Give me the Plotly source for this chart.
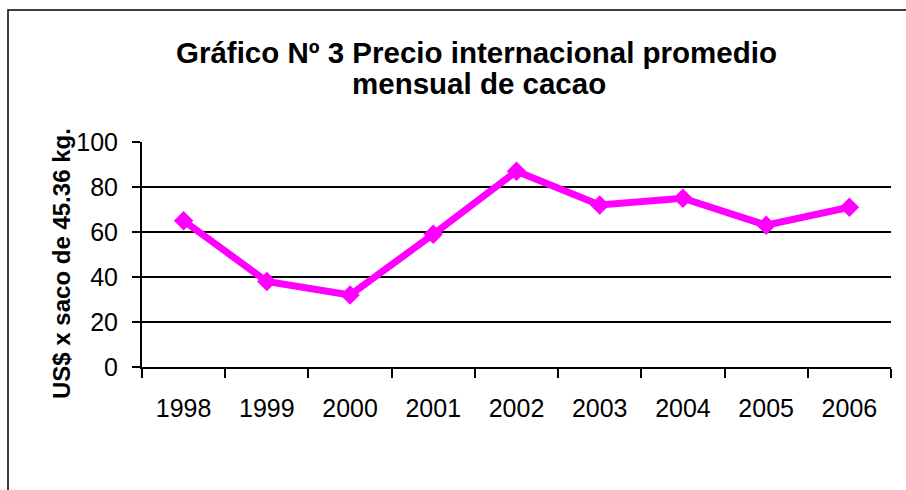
import plotly.graph_objects as go

years = ["1998", "1999", "2000", "2001", "2002", "2003", "2004", "2005", "2006"]
prices = [65, 38, 32, 59, 87, 72, 75, 63, 71]
y_ticks = [0, 20, 40, 60, 80, 100]
title_lines = ["Gráfico Nº 3 Precio internacional promedio", "mensual de cacao"]
y_title = "US$ x saco de 45.36 kg."

fig = go.Figure()
fig.add_trace(go.Scatter(
    x=years, y=prices, mode="lines+markers",
    line=dict(color="#FF00FF", width=7),
    marker=dict(symbol="diamond", size=15, color="#FF00FF"),
    showlegend=False,
))

W, H = 906, 490
L, R, T, B = 142, 15, 142, 123
PW, PH = W - L - R, H - T - B


def px_x(p):
    return (p - L) / PW


def px_y(p):
    return (H - B - p) / PH


fig.update_layout(
    width=W, height=H,
    margin=dict(l=L, r=R, t=T, b=B),
    paper_bgcolor="white", plot_bgcolor="white",
    font=dict(family="Liberation Sans, Arial, sans-serif", color="black"),
    xaxis=dict(
        type="category", tickson="boundaries", ticks="outside", ticklen=9,
        tickwidth=2, tickcolor="black", showline=True, linecolor="black",
        linewidth=2, showgrid=False, tickfont=dict(size=25),
        ticklabelstandoff=18, range=[-0.5, 8.5],
    ),
    yaxis=dict(
        range=[0, 100], tickvals=y_ticks, ticks="outside", ticklen=8,
        tickwidth=2, tickcolor="black", showline=True, linecolor="black",
        linewidth=2, showgrid=True, gridcolor="black", gridwidth=1.5,
        tickfont=dict(size=25), ticklabelstandoff=9, zeroline=False,
    ),
    annotations=[
        dict(text="<b>" + title_lines[0] + "</b>", xref="paper", yref="paper",
             x=px_x(476), y=px_y(52), xanchor="center", yanchor="middle",
             showarrow=False, font=dict(size=29.5)),
        dict(text="<b>" + title_lines[1] + "</b>", xref="paper", yref="paper",
             x=px_x(479), y=px_y(84), xanchor="center", yanchor="middle",
             showarrow=False, font=dict(size=29.5)),
        dict(text="<b>" + y_title + "</b>", textangle=-90,
             xref="paper", yref="paper", x=px_x(61), y=px_y(264),
             xanchor="center", yanchor="middle", showarrow=False,
             font=dict(size=24)),
    ],
    shapes=[
        dict(type="rect", xref="paper", yref="paper",
             x0=px_x(8), x1=px_x(W + 20), y0=px_y(H + 20), y1=px_y(10),
             line=dict(color="black", width=1.5), fillcolor="rgba(0,0,0,0)",
             layer="below"),
    ],
)

fig.write_html("out.html", config={"displayModeBar": False},
               post_script="document.body.style.margin='0';document.body.style.overflow='hidden';")
